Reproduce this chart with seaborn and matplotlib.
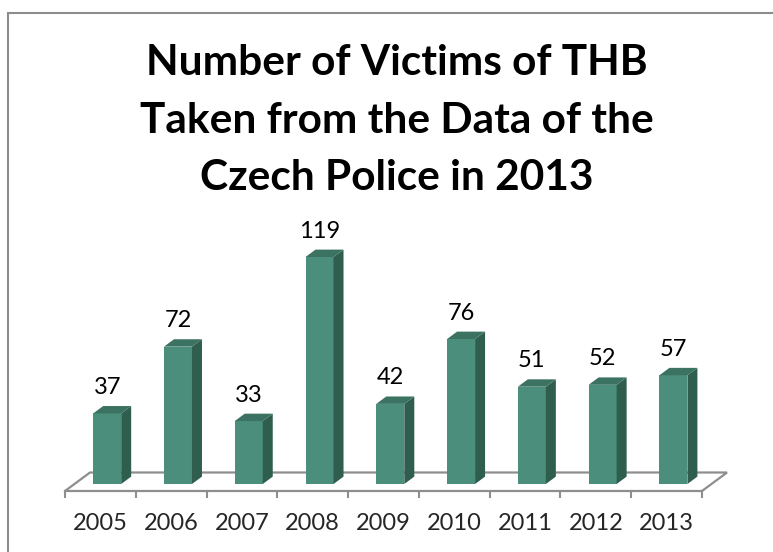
import matplotlib
matplotlib.use("Agg")
import matplotlib.pyplot as plt
from matplotlib.patches import Polygon, Rectangle
import seaborn as sns
import pandas as pd

years = ["2005", "2006", "2007", "2008", "2009", "2010", "2011", "2012", "2013"]
victims = [37, 72, 33, 119, 42, 76, 51, 52, 57]
title_lines = ["Number of Victims of THB", "Taken from the Data of the", "Czech Police in 2013"]

FRONT = "#4b8e7b"
SIDE = "#2f5d4e"
TOP = "#3b7261"
GRID = "#8e8e8e"

sns.set_theme(style="white")
plt.rcParams["font.family"] = ["Lato", "DejaVu Sans"]

W, H = 773, 552
fig = plt.figure(figsize=(W / 100, H / 100), dpi=100)

# outer chart frame (runs off the right and bottom edge)
fig.add_artist(Rectangle((8 / W, -0.1), 1.2, 1.1 - 12.5 / H, transform=fig.transFigure,
                         fill=False, edgecolor="#8c8c8c", linewidth=1.5))

# axes placed so the floor front edge spans x=65..702 px, y=491 px
ax = fig.add_axes([65 / W, (H - 491) / H, 637 / W, 271 / H])
px_per_cat = 637 / 9
px_per_val = (484 - 257) / 119
ax.set_xlim(-0.5, 8.5)
ax.set_ylim(-7 / px_per_val, (484 - 220) / px_per_val)

df = pd.DataFrame({"year": years, "victims": victims})
bar_w = 28 / px_per_cat
sns.barplot(data=df, x="year", y="victims", color=FRONT, saturation=1,
            width=bar_w, ax=ax, zorder=3)

shift = 6.8 / px_per_cat
dx = 10 / px_per_cat
dy = 7.4 / px_per_val
for p, v in zip(ax.patches, victims):
    p.set_x(p.get_x() + shift)
    p.set_edgecolor("none")
    x0 = p.get_x()
    x1 = x0 + p.get_width()
    ax.add_patch(Polygon([(x1, 0), (x1 + dx, dy), (x1 + dx, v + dy), (x1, v)],
                         closed=True, facecolor=SIDE, edgecolor="none", zorder=3))
    ax.add_patch(Polygon([(x0, v), (x1, v), (x1 + dx, v + dy), (x0 + dx, v + dy)],
                         closed=True, facecolor=TOP, edgecolor="none", zorder=3))
    ax.text((x0 + x1) / 2, v + dy + 12 / px_per_val, str(v), ha="center",
            va="baseline", fontsize=17, color="black")

# floor of the 3D plot
y_front = ax.get_ylim()[0]
y_back = (484 - 472.5) / px_per_val
fdx = 25 / px_per_cat
ax.plot([-0.5, -0.5 + fdx, 8.5 + fdx, 8.5], [y_front, y_back, y_back, y_front],
        color=GRID, linewidth=1.6, clip_on=False, zorder=1, solid_joinstyle="miter")

for s in ["top", "right", "left"]:
    ax.spines[s].set_visible(False)
ax.spines["bottom"].set_color(GRID)
ax.spines["bottom"].set_linewidth(1.6)

ax.set_xticks([i - 0.5 for i in range(len(years) + 1)])
ax.set_xticklabels([])
ax.tick_params(axis="x", which="major", length=5, width=1.5, color=GRID, bottom=True)
ax.set_xticks(range(len(years)), minor=True)
ax.set_xticklabels(years, minor=True, fontsize=17)
ax.tick_params(axis="x", which="minor", length=0, pad=16)
ax.set_yticks([])
ax.set_xlabel("")
ax.set_ylabel("")
ax.patch.set_alpha(0)

for line, base in zip(title_lines, [75, 133, 190]):
    fig.text(397 / W, (H - base) / H, line, ha="center", va="baseline",
             fontsize=30.5, fontweight="bold", color="black")

fig.savefig("out.png", dpi=100)
